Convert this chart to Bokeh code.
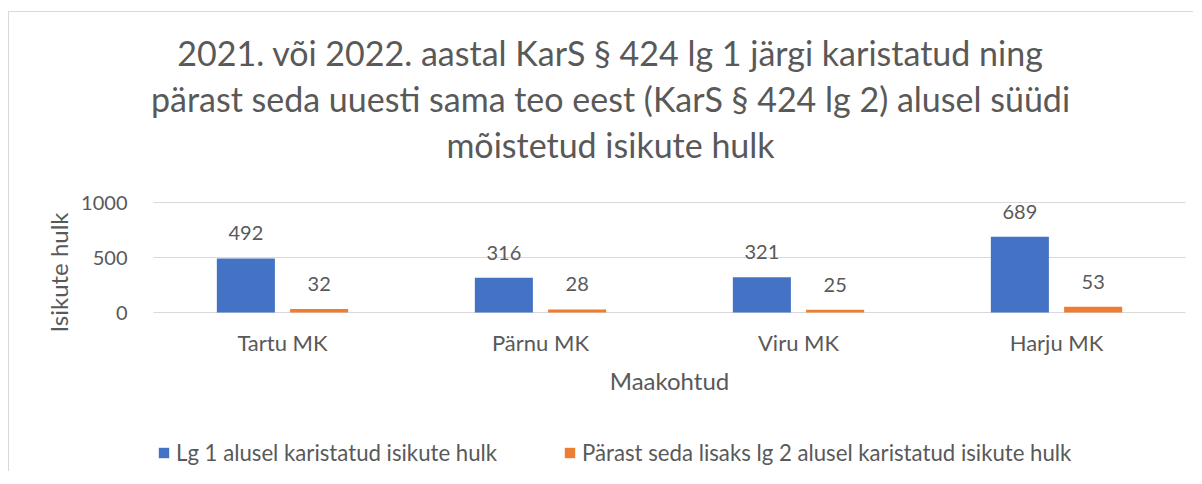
import math
from bokeh.plotting import figure
from bokeh.models import (Range1d, ColumnDataSource, LabelSet, Label, Legend, LegendItem,
                          FixedTicker, Grid)
from bokeh.core.properties import value
from bokeh.transform import dodge
from bokeh.embed import file_html
from bokeh.resources import INLINE

# ---- data ----
categories = ["Tartu MK", "Pärnu MK", "Viru MK", "Harju MK"]
lg1_values = [492, 316, 321, 689]
lg2_values = [32, 28, 25, 53]
series_names = ["Lg 1 alusel karistatud isikute hulk",
                "Pärast seda lisaks lg 2 alusel karistatud isikute hulk"]
title_lines = ["2021. või 2022. aastal KarS § 424 lg 1 järgi karistatud ning",
               "pärast seda uuesti sama teo eest (KarS § 424 lg 2) alusel süüdi",
               "mõistetud isikute hulk"]
y_ticks = [0, 500, 1000]
x_title = "Maakohtud"
y_title = "Isikute hulk"

# ---- style / layout constants ----
FONT = "Lato"
TXT = "#595959"
GRID = "#d9d9d9"
BLUE = "#4472C4"
ORANGE = "#ED7D31"

W, H = 1185, 460            # canvas size
CAT_LEFT = 144              # px from canvas left where the category area starts
PX_PER_CAT = 258            # px per category
Y0 = 300                    # px from canvas top of value 0
PX_PER_UNIT = 0.11          # px per value unit
BAR_W = 0.225
OFF = 0.142

n = len(categories)
xc = [i + 0.5 for i in range(n)]
src = ColumnDataSource(dict(xc=xc, lg1=lg1_values, lg2=lg2_values,
                            lab1=[str(v) for v in lg1_values],
                            lab2=[str(v) for v in lg2_values]))

p = figure(x_range=Range1d(-CAT_LEFT / PX_PER_CAT, (W - CAT_LEFT) / PX_PER_CAT),
           y_range=Range1d(-(H - Y0) / PX_PER_UNIT, Y0 / PX_PER_UNIT),
           width=W, height=H, output_backend="svg", toolbar_location=None,
           title=None, min_border=0, min_border_left=0, min_border_right=0,
           min_border_top=0, min_border_bottom=0)
p.outline_line_color = None
p.styles = {"border-top": "1px solid #d9d9d9", "border-left": "1px solid #d9d9d9",
            "margin-top": "11px", "margin-left": "8px"}

# ---- axes (drawn at the value/category origin) ----
for ax in (p.xaxis, p.yaxis):
    ax.fixed_location = 0
    ax.axis_line_color = None
    ax.major_tick_line_color = None
    ax.minor_tick_line_color = None
    ax.major_tick_in = 0
    ax.major_tick_out = 0
    ax.minor_tick_in = 0
    ax.minor_tick_out = 0
    ax.major_label_text_font = FONT
    ax.major_label_text_color = TXT

p.xaxis.ticker = FixedTicker(ticks=xc)
p.xaxis.major_label_overrides = {x: c for x, c in zip(xc, categories)}
p.xaxis.major_label_text_font_size = "22px"
p.xaxis.major_label_standoff = 16

p.yaxis.ticker = FixedTicker(ticks=y_ticks)
p.yaxis.major_label_text_font_size = "20px"
p.yaxis.major_label_standoff = 26

p.xgrid.visible = False
p.ygrid.ticker = FixedTicker(ticks=y_ticks)
p.ygrid.grid_line_color = GRID
p.ygrid.grid_line_width = 1
if "cross_bounds" in Grid.properties():
    p.ygrid.cross_bounds = (0, n)
else:
    p.ygrid.visible = False
    p.segment(x0=[0] * len(y_ticks), x1=[n] * len(y_ticks), y0=y_ticks, y1=y_ticks,
              line_color=GRID, line_width=1)

# ---- bars ----
r1 = p.vbar(x=dodge("xc", -OFF), top="lg1", width=BAR_W, source=src,
            fill_color=BLUE, line_color=None)
r2 = p.vbar(x=dodge("xc", OFF), top="lg2", width=BAR_W, source=src,
            fill_color=ORANGE, line_color=None)

for off, col, lab in [(-OFF, "lg1", "lab1"), (OFF, "lg2", "lab2")]:
    p.add_layout(LabelSet(x=dodge("xc", off), y=col, text=lab, source=src,
                          y_offset=18, text_align="center", text_baseline="alphabetic",
                          text_font=value(FONT), text_font_size=value("20px"),
                          text_color=TXT))

# ---- title ----
for i, line in enumerate(title_lines):
    p.add_layout(Label(x=601, y=420 - 46 * i, x_units="screen", y_units="screen",
                       text=line, text_align="center", text_baseline="alphabetic",
                       text_font=FONT, text_font_size="34px", text_color=TXT))

# ---- axis titles ----
p.add_layout(Label(x=660, y=92, x_units="screen", y_units="screen", text=x_title,
                   text_align="center", text_baseline="alphabetic",
                   text_font=FONT, text_font_size="24px", text_color=TXT))
p.add_layout(Label(x=49, y=200, x_units="screen", y_units="screen", text=y_title,
                   angle=math.pi / 2, text_align="center", text_baseline="middle",
                   text_font=FONT, text_font_size="24px", text_color=TXT))

# ---- legend ----
legend = Legend(items=[LegendItem(label=series_names[0], renderers=[r1]),
                       LegendItem(label=series_names[1], renderers=[r2])],
                location=(148, 6), orientation="horizontal",
                border_line_color=None, background_fill_alpha=0,
                padding=0, margin=0, spacing=66, glyph_width=13, glyph_height=13,
                label_standoff=6, label_text_font=FONT, label_text_font_size="22.2px",
                label_text_color=TXT)
p.add_layout(legend, "center")

open("out.html", "w").write(file_html(p, INLINE))
